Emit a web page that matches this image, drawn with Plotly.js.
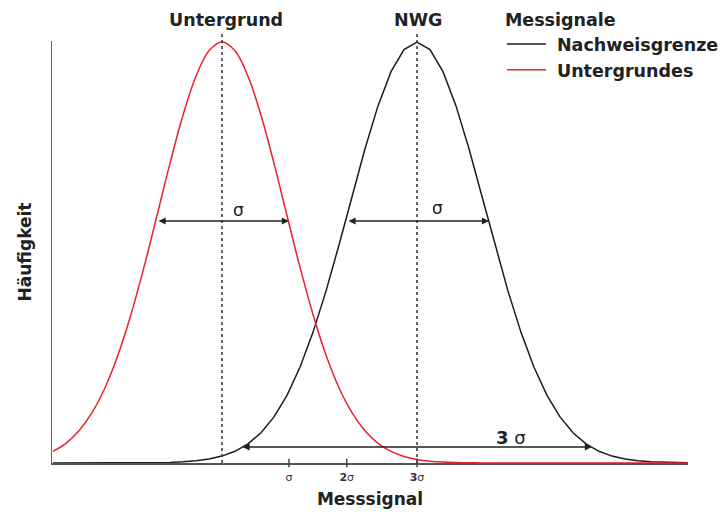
<!DOCTYPE html>
<html>
<head>
<meta charset="utf-8">
<script src="https://cdn.plot.ly/plotly-3.0.1.min.js"></script>
<style>html,body{margin:0;padding:0;background:#fff;}#chart{width:720px;height:512px;}</style>
</head>
<body>
<div id="chart"></div>
<script>
// x in units of sigma (Untergrund centre = 0, NWG centre = 3)
const xs = [-2.6,-2.4,-2.2,-2.0,-1.8,-1.6,-1.4,-1.2,-1.0,-0.8,-0.6,-0.4,-0.2,0,0.2,0.4,0.6,0.8,1.0,1.2,1.4,1.6,1.8,2.0,2.2,2.4,2.6,2.8,3.0,3.2,3.4,3.6,3.8,4.0,4.2,4.4,4.6,4.8,5.0,5.2,5.4,5.6,5.8,6.0,6.2,6.4,6.6,6.8,7.0,7.2];
const untergrund = [0.0275,0.0468,0.0764,0.1194,0.1788,0.2566,0.3529,0.4652,0.5878,0.7117,0.8259,0.9185,0.979,1,0.979,0.9185,0.8259,0.7117,0.5878,0.4652,0.3529,0.2566,0.1788,0.1194,0.0764,0.0468,0.0275,0.0155,0.0084,0.0043,0.0021,0.001,0.0005,0.0002,0,0,0,0,0,0,0,0,0,0,0,0,0,0,0,0];
const nachweisgrenze = [0,0,0,0,0,0.0001,0.0001,0.0003,0.0007,0.0014,0.0027,0.0051,0.0093,0.0164,0.0278,0.0455,0.0719,0.1095,0.1607,0.2275,0.3103,0.4083,0.5178,0.6332,0.7464,0.8483,0.9295,0.9819,1,0.9819,0.9295,0.8483,0.7464,0.6332,0.5178,0.4083,0.3103,0.2275,0.1607,0.1095,0.0719,0.0455,0.0278,0.0164,0.0093,0.0051,0.0027,0.0014,0.0007,0.0003];
const seriesNames = ["Nachweisgrenze", "Untergrundes"];
const legendTitle = "Messignale";
const tickVals = [1.03, 1.92, 3.0];
const tickText = ["σ", "<b>2</b>σ", "<b>3</b>σ"];
const centres = [0, 3];
const centreLabels = ["Untergrund", "NWG"];
// sigma arrows: [x start, x end, y level]
const sigmaRed = [-1.0, 1.03, 0.5748];
const sigmaBlack = [1.923, 4.108, 0.5748];
const threeSigma = [0.292, 5.692, 0.038];

const FONT = "DejaVu Sans, Verdana, sans-serif";
const RED = "#e8232b", BLK = "#1c1c1c";
const TS = 17.5;

const traces = [
  {x: xs, y: nachweisgrenze, name: "<b>" + seriesNames[0] + "</b>", mode: "lines", type: "scatter",
   line: {color: BLK, width: 1.5}, legendrank: 1},
  {x: xs, y: untergrund, name: "<b>" + seriesNames[1] + "</b>", mode: "lines", type: "scatter",
   line: {color: RED, width: 1.5, shape: "spline", smoothing: 1}, legendrank: 2}
];

const shapes = [];
centres.forEach(c => shapes.push({type: "line", xref: "x", yref: "paper", x0: c, x1: c, y0: 0, y1: 1.0213,
  line: {color: "#333", width: 1.5, dash: "dot"}}));
tickVals.forEach(t => shapes.push({type: "line", xref: "x", yref: "paper", x0: t, x1: t, y0: -0.01, y1: 0.01,
  line: {color: "#444", width: 1.5}}));

function dblArrow(a) {
  return {x: a[1], y: a[2], ax: a[0], ay: a[2], xref: "x", yref: "y", axref: "x", ayref: "y",
    text: "", showarrow: true, arrowhead: 2, startarrowhead: 2, arrowside: "end+start",
    arrowsize: 1.1, startarrowsize: 1.1, arrowwidth: 1.3, arrowcolor: "#222", standoff: 0, startstandoff: 0};
}

const annotations = [
  dblArrow(sigmaRed), dblArrow(sigmaBlack), dblArrow(threeSigma),
  {x: 0.26, y: 0.602, xref: "x", yref: "y", text: "σ", showarrow: false, font: {family: FONT, size: 17, color: "#222"}},
  {x: 3.31, y: 0.605, xref: "x", yref: "y", text: "σ", showarrow: false, font: {family: FONT, size: 17, color: "#222"}},
  {x: 4.45, y: 0.06, xref: "x", yref: "y", text: "<b>3</b> σ", showarrow: false, font: {family: FONT, size: 18, color: "#222"}}
];
centres.forEach((c, i) => annotations.push({x: c, y: 1.05, xref: "x", yref: "paper", xshift: i === 0 ? 4 : 1,
  text: "<b>" + centreLabels[i] + "</b>", showarrow: false, yanchor: "middle",
  font: {family: FONT, size: TS, color: "#222"}}));

const layout = {
  width: 720, height: 512,
  margin: {l: 52, r: 32, t: 41, b: 49, autoexpand: false},
  paper_bgcolor: "#fff", plot_bgcolor: "#fff",
  font: {family: FONT, color: "#222"},
  showlegend: true,
  legend: {x: 0.709, y: 1.089, xanchor: "left", yanchor: "top", bgcolor: "rgba(0,0,0,0)",
    itemwidth: 44,
    title: {text: "<b>" + legendTitle + "</b>", font: {family: FONT, size: TS, color: "#222"}},
    font: {family: FONT, size: TS, color: "#222"}, traceorder: "normal", tracegroupgap: 0},
  xaxis: {range: [-2.615, 7.169], showgrid: false, zeroline: false, showline: true, linecolor: "#555", linewidth: 1.5,
    ticks: "", tickmode: "array", tickvals: tickVals, ticktext: tickText, ticklabelstandoff: 3,
    tickfont: {family: FONT, size: 11, color: "#333"},
    title: {text: "<b>Messsignal</b>", font: {family: FONT, size: 17, color: "#222"}, standoff: 10}},
  yaxis: {range: [0, 1.0024], showgrid: false, zeroline: false, showline: true, linecolor: "#666", linewidth: 1.5,
    ticks: "", showticklabels: false,
    title: {text: "<b>Häufigkeit</b>", font: {family: FONT, size: 17, color: "#222"}, standoff: 14}},
  shapes: shapes, annotations: annotations
};

Plotly.newPlot("chart", traces, layout, {displayModeBar: false, staticPlot: true}).then(gd => {
  // lengthen legend line samples to match the reference
  gd.querySelectorAll(".legend .legendlines path").forEach(p => p.setAttribute("d", "M4,0h39"));
});
</script>
</body>
</html>
